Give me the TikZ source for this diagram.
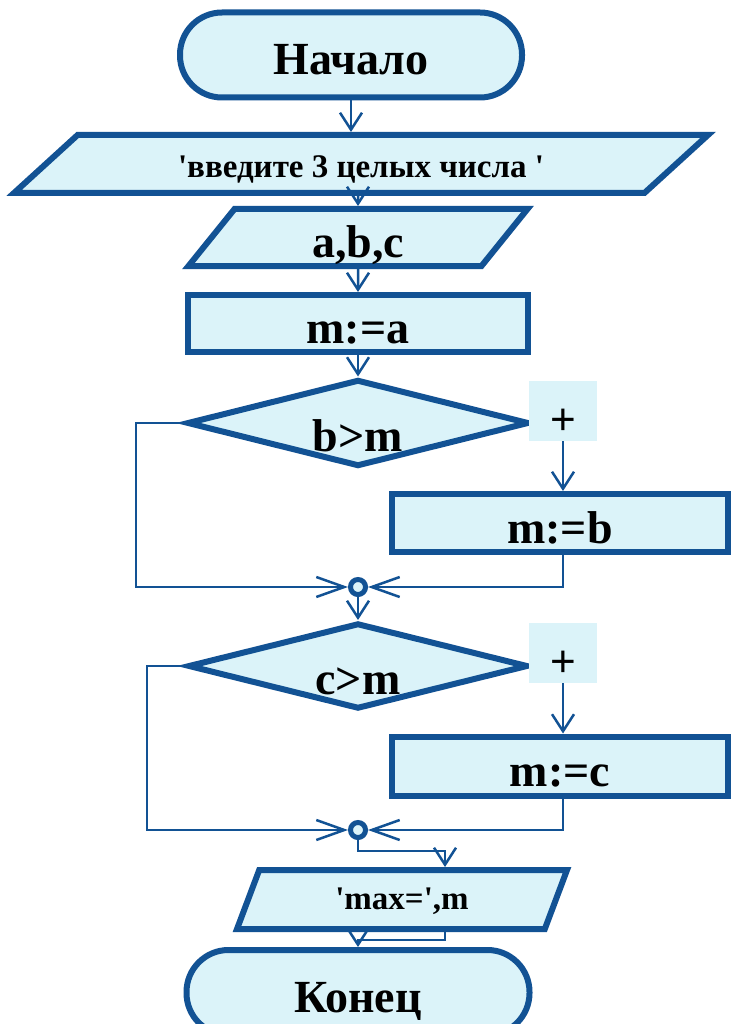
\documentclass[tikz,border=0pt]{standalone}
\usepackage{fontspec}
\setmainfont{Liberation Serif}
\newfontfamily\plusfont{Liberation Sans}
\usetikzlibrary{shapes.geometric,arrows.meta}
\definecolor{flowblue}{RGB}{18,82,148}
\definecolor{flowfill}{RGB}{219,243,249}
\begin{document}
\begin{tikzpicture}[x=1pt,y=-1pt,
    block/.style={draw=flowblue,fill=flowfill,line width=6pt,inner sep=0pt,font=\bfseries\fontsize{46}{52}\selectfont,text height=40pt,text depth=0pt},
    term node/.style={block,rectangle,rounded corners=42pt,minimum width=342pt,minimum height=85pt},
    proc node/.style={block,rectangle,minimum height=58pt},
    io node/.style={block,trapezium,trapezium stretches body,minimum height=58pt},
    small text/.style={font=\bfseries\fontsize{33}{38}\selectfont},
    cond node/.style={block,diamond,aspect=3.9,minimum width=342pt,minimum height=87pt,text height=56pt},
    sign node/.style={fill=flowfill,minimum width=68pt,minimum height=60pt,inner sep=0pt,font=\plusfont\fontsize{44}{48}\selectfont,text height=46pt,text depth=0pt},
    join node/.style={circle,draw=flowblue,fill=flowfill,line width=5pt,minimum size=15pt,inner sep=0pt},
    arr/.style={draw=flowblue,line width=2.5pt,-{Straight Barb[length=17pt,width=22pt]}},
    join arr/.style={draw=flowblue,line width=2.5pt,-{Straight Barb[length=28pt,width=20pt]}}]
    \useasboundingbox[fill=white] (0,0) rectangle (730,1024);

    \node[term node] at (351,55) (start) {Начало};
    \node[io node,small text,trapezium left angle=23,trapezium right angle=157,minimum width=694pt,text height=27pt] at (361,164) (ask) {\textquotesingle введите 3 целых числа \textquotesingle};
    \node[io node,trapezium left angle=41,trapezium right angle=139,minimum width=339pt,minimum height=57pt] at (358,237.5) (input) {a,b,c};
    \node[proc node,minimum width=340pt,minimum height=57pt] at (358,323.5) (seta) {m:=a};
    \node[cond node] at (358,423) (cmpb) {b>m};
    \node[sign node] at (563,411) (yesb) {+};
    \node[proc node,minimum width=336pt] at (560,523) (setb) {m:=b};
    \node[join node] at (358,587) (joinb) {};
    \node[cond node,minimum width=340pt,minimum height=86pt] at (358,666) (cmpc) {c>m};
    \node[sign node] at (563,653) (yesc) {+};
    \node[proc node,minimum width=336pt,minimum height=59pt] at (560,766) (setc) {m:=c};
    \node[join node] at (358,830) (joinc) {};
    \node[io node,small text,trapezium left angle=42,trapezium right angle=138,minimum width=330pt,minimum height=59pt,text height=20pt] at (402,899.5) (result) {\textquotesingle max=\textquotesingle,m};
    \node[term node,minimum width=343pt] at (358,992.5) (stop) {Конец};

    \draw[arr] (start) -- (start |- ask.north);
    \draw[arr] (input |- ask.south) -- (input);
    \draw[arr] (input) -- (seta);
    \draw[arr] (seta) -- (cmpb);
    \draw[arr] (yesb) -- (yesb |- setb.north);
    \draw[join arr] (yesb |- setb.south) |- (joinb);
    \draw[join arr] (cmpb.west) -- ++(-48,0) |- (joinb);
    \draw[arr] (joinb) -- (cmpc);
    \draw[arr] (yesc) -- (yesc |- setc.north);
    \draw[join arr] (yesc |- setc.south) |- (joinc);
    \draw[join arr] (cmpc.west) -- ++(-38,0) |- (joinc);
    \draw[arr] (joinc) -- ++(0,21) -| ([xshift=43pt]result.north);
    \draw[arr] ([xshift=43pt]result.south) -- ++(0,8) -| (stop);
\end{tikzpicture}
\end{document}
